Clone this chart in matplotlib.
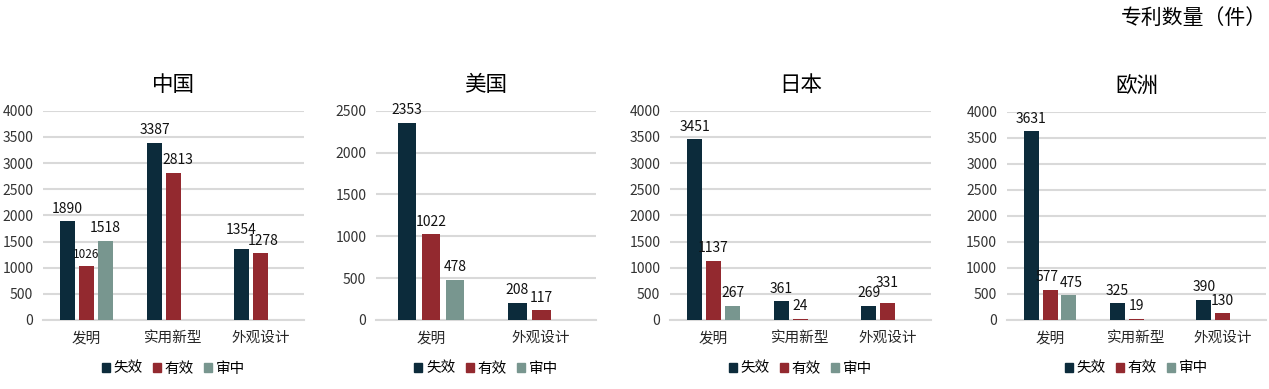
import numpy as np
import matplotlib
matplotlib.use("Agg")
import matplotlib.pyplot as plt
from matplotlib.patches import Patch

plt.rcParams['font.family'] = ['Noto Sans CJK SC', 'DejaVu Sans']

# data
series = ['失效', '有效', '审中']
colors = ['#0c2b3b', '#93292f', '#78968f']

cn_cats = ['发明', '实用新型', '外观设计']
cn_lost = [1890, 3387, 1354]
cn_valid = [1026, 2813, 1278]
cn_pending = [1518, None, None]

us_cats = ['发明', '外观设计']
us_lost = [2353, 208]
us_valid = [1022, 117]
us_pending = [478, None]

jp_cats = ['发明', '实用新型', '外观设计']
jp_lost = [3451, 361, 269]
jp_valid = [1137, 24, 331]
jp_pending = [267, None, None]

eu_cats = ['发明', '实用新型', '外观设计']
eu_lost = [3631, 325, 390]
eu_valid = [577, 19, 130]
eu_pending = [475, None, None]

panels = [
    ('中国', cn_cats, [cn_lost, cn_valid, cn_pending], 4000),
    ('美国', us_cats, [us_lost, us_valid, us_pending], 2500),
    ('日本', jp_cats, [jp_lost, jp_valid, jp_pending], 4000),
    ('欧洲', eu_cats, [eu_lost, eu_valid, eu_pending], 4000),
]

# axes rectangles in figure fractions
boxes = [
    [0.0339, 0.1774, 0.2057, 0.5380],
    [0.2963, 0.1774, 0.1734, 0.5380],
    [0.5280, 0.1774, 0.2057, 0.5380],
    [0.7935, 0.1774, 0.2040, 0.5350],
]

# hand-placed label nudges (panel, series, category) -> (dx, dy) in points
nudges = {
    (0, 1, 1): (3, 0),
    (0, 0, 2): (0, 5),
    (0, 1, 2): (2, 0),
    (2, 1, 2): (0, 5),
    (3, 1, 0): (-2, 0),
    (3, 2, 0): (2, 0),
}
small_labels = {(0, 1, 0)}

fig = plt.figure(figsize=(12.69, 3.89), dpi=100)

bar_w = 0.172
step = 0.218
for p, ((title, cats, vals, ymax), box) in enumerate(zip(panels, boxes)):
    ax = fig.add_axes(box)
    x = np.arange(len(cats))
    for i, (name, col, v) in enumerate(zip(series, colors, vals)):
        for j, val in enumerate(v):
            if val is None:
                continue
            xc = x[j] + (i - 1) * step
            ax.bar(xc, val, width=bar_w, color=col, zorder=3)
            dx, dy = nudges.get((p, i, j), (0, 0))
            fs = 8.5 if (p, i, j) in small_labels else 10
            ax.annotate(str(val), (xc, val), xytext=(dx, 4 + dy),
                        textcoords='offset points', ha='center', va='bottom',
                        fontsize=fs, color='#111111')
    ax.set_xlim(-0.5, len(cats) - 0.5)
    ax.set_ylim(0, ymax)
    ax.set_yticks(np.arange(0, ymax + 1, 500))
    ax.set_xticks(x)
    ax.set_xticklabels(cats, fontsize=10.5, color='#262626')
    ax.tick_params(axis='y', labelsize=10, labelcolor='#333333', length=0, pad=7)
    ax.tick_params(axis='x', length=0, pad=8)
    ax.grid(axis='y', color='#d9d9d9', linewidth=1.5, zorder=0)
    for s in ['top', 'right', 'left']:
        ax.spines[s].set_visible(False)
    ax.spines['bottom'].set_color('#d9d9d9')
    ax.spines['bottom'].set_linewidth(1.5)
    ax.set_title(title, fontsize=15.5, pad=14)
    handles = [Patch(color=c, label=n) for n, c in zip(series, colors)]
    ax.legend(handles=handles, loc='upper center', bbox_to_anchor=(0.5, -0.15),
              ncol=3, frameon=False, fontsize=10.5, handlelength=0.55,
              handleheight=0.55, handletextpad=0.25, columnspacing=0.7,
              borderpad=0.2)

fig.text(0.998, 0.954, '专利数量（件）', ha='right', va='center', fontsize=15)

fig.savefig('out.png', dpi=100)
